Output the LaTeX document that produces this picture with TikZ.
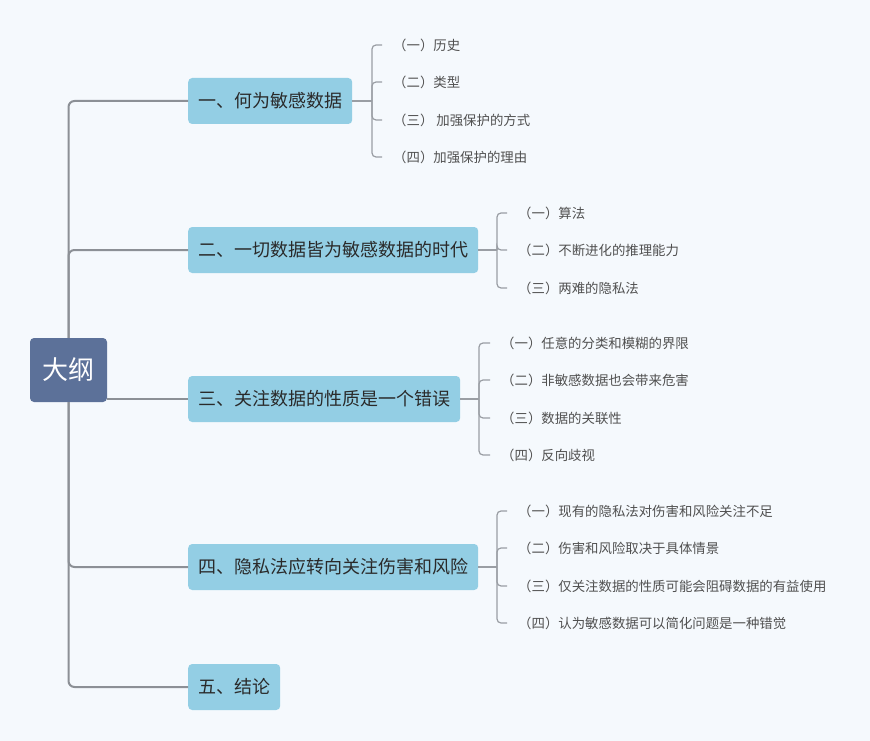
\documentclass[tikz,border=0pt]{standalone}
\usepackage{fontspec}
\setmainfont{Noto Sans CJK SC}
\definecolor{bgc}{HTML}{F5F9FD}
\definecolor{rootc}{HTML}{5C7199}
\definecolor{mainc}{HTML}{93CEE4}
\definecolor{trunkc}{HTML}{8C9096}
\definecolor{subc}{HTML}{9A9EA4}
\definecolor{txtc}{HTML}{2A2A2A}
\definecolor{subtxt}{HTML}{505050}
\begin{document}
\begin{tikzpicture}[x=1pt,y=-1pt,
  rootbox/.style={fill=rootc,rounded corners=4pt,minimum width=77pt,minimum height=64pt,inner sep=0pt,text=white,font=\fontsize{26}{28}\selectfont},
  mainbox/.style={fill=mainc,rounded corners=4pt,minimum height=46pt,inner xsep=10pt,inner ysep=0pt,anchor=west,text=txtc,font=\fontsize{18}{20}\selectfont},
  subitem/.style={anchor=west,inner xsep=11pt,inner ysep=2pt,text=subtxt,font=\fontsize{13.4}{15}\selectfont},
  trunk/.style={draw=trunkc,line width=2pt,rounded corners=6pt},
  twig/.style={draw=subc,line width=1.2pt,rounded corners=4pt}]
\fill[bgc] (0,0) rectangle (870,741);
\useasboundingbox (0,0) rectangle (870,741);

\node[rootbox] (root) at (68.5,370) {大纲};

\node[mainbox] (n1) at (188,101) {一、何为敏感数据};
\node[mainbox] (n2) at (188,250) {二、一切数据皆为敏感数据的时代};
\node[mainbox] (n3) at (188,399) {三、关注数据的性质是一个错误};
\node[mainbox] (n4) at (188,567) {四、隐私法应转向关注伤害和风险};
\node[mainbox] (n5) at (188,687) {五、结论};

\draw[trunk] (root.north) |- (n1.west);
\draw[trunk] (root.north) |- (n2.west);
\draw[trunk] (n3.west -| root.east) -- (n3.west);
\draw[trunk] (root.south) |- (n4.west);
\draw[trunk] (root.south) |- (n5.west);

% children of n1
\node[subitem] (a1) at (382,45) {（一）历史};
\node[subitem] (a2) at (382,82) {（二）类型};
\node[subitem] (a3) at (382,120) {（三） 加强保护的方式};
\node[subitem] (a4) at (382,157) {（四）加强保护的理由};
\coordinate (b1) at (372,101);
\draw[twig] (n1.east) -- (b1);
\foreach \c in {a1,a2,a3,a4} \draw[twig] (b1) |- (\c.west);

% children of n2
\node[subitem] (c1) at (507,213) {（一）算法};
\node[subitem] (c2) at (507,250) {（二）不断进化的推理能力};
\node[subitem] (c3) at (507,288) {（三）两难的隐私法};
\coordinate (b2) at (497,250);
\draw[twig] (n2.east) -- (b2);
\foreach \c in {c1,c2,c3} \draw[twig] (b2) |- (\c.west);

% children of n3
\node[subitem] (d1) at (490,343) {（一）任意的分类和模糊的界限};
\node[subitem] (d2) at (490,380) {（二）非敏感数据也会带来危害};
\node[subitem] (d3) at (490,418) {（三）数据的关联性};
\node[subitem] (d4) at (490,455) {（四）反向歧视};
\coordinate (b3) at (479,399);
\draw[twig] (n3.east) -- (b3);
\foreach \c in {d1,d2,d3,d4} \draw[twig] (b3) |- (\c.west);

% children of n4
\node[subitem] (e1) at (507,511) {（一）现有的隐私法对伤害和风险关注不足};
\node[subitem] (e2) at (507,548) {（二）伤害和风险取决于具体情景};
\node[subitem] (e3) at (507,586) {（三）仅关注数据的性质可能会阻碍数据的有益使用};
\node[subitem] (e4) at (507,623) {（四）认为敏感数据可以简化问题是一种错觉};
\coordinate (b4) at (497,567);
\draw[twig] (n4.east) -- (b4);
\foreach \c in {e1,e2,e3,e4} \draw[twig] (b4) |- (\c.west);
\end{tikzpicture}
\end{document}
